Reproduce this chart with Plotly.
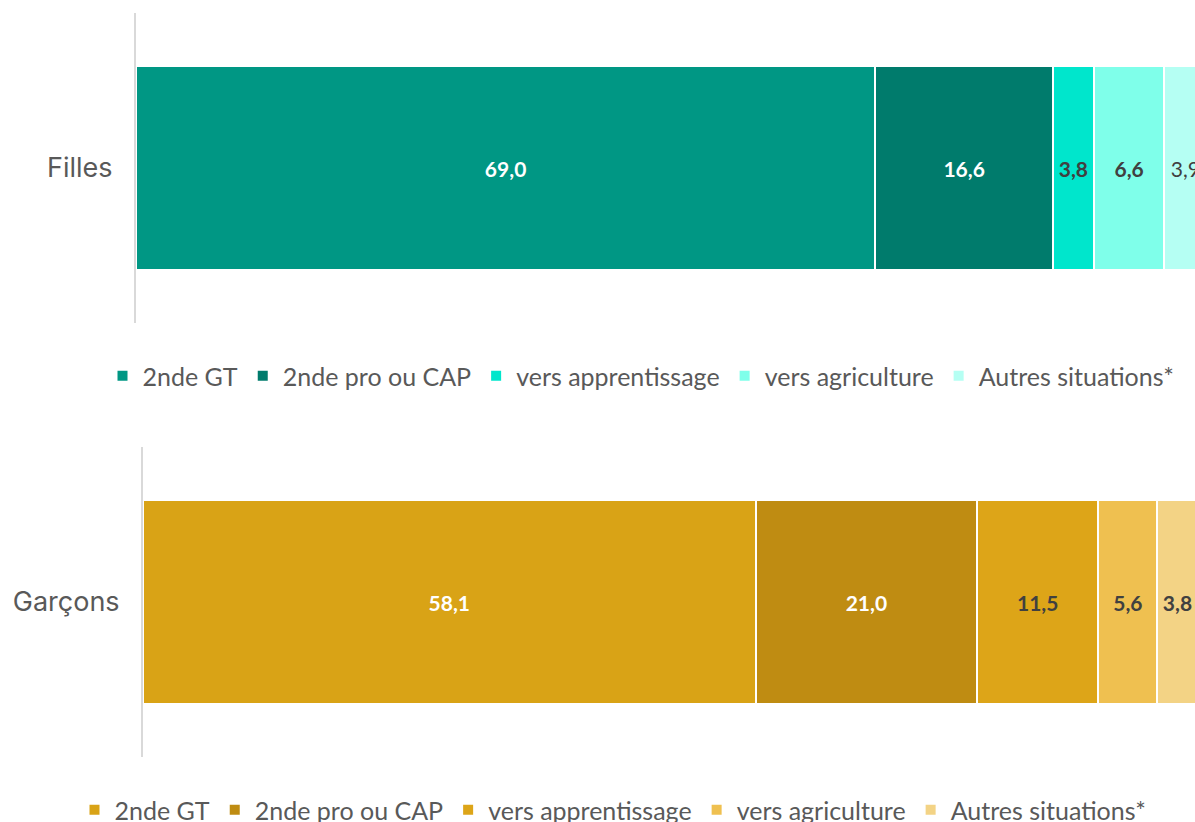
import plotly.graph_objects as go

categories = ["2nde GT", "2nde pro ou CAP", "vers apprentissage", "vers agriculture", "Autres situations*"]
filles_values = [69.0, 16.6, 3.8, 6.6, 3.9]
garcons_values = [58.1, 21.0, 11.5, 5.6, 3.8]
group_labels = ["Filles", "Garçons"]

filles_colors = ["#009784", "#007B6C", "#00E6CC", "#7FFFEA", "#B5FFF3"]
garcons_colors = ["#D9A316", "#BF8C12", "#DDA518", "#EFC050", "#F3D385"]
filles_text_colors = ["white", "white", "#404040", "#404040", "#404040"]
filles_text_weights = ["bold", "bold", "bold", "bold", "normal"]
garcons_text_colors = ["white", "white", "#404040", "#404040", "#404040"]
garcons_text_weights = ["bold", "bold", "bold", "bold", "bold"]

W, H = 1195, 822

fig = go.Figure()

for i, cat in enumerate(categories):
    fig.add_trace(go.Bar(
        y=[group_labels[0]], x=[filles_values[i]], name=cat, orientation="h",
        marker=dict(color=filles_colors[i], line=dict(color="white", width=2)),
        width=0.66, texttemplate="%{x:.1f}", textposition="inside", insidetextanchor="middle",
        textangle=0, constraintext="none",
        textfont=dict(family="Lato", size=21, color=filles_text_colors[i], weight=filles_text_weights[i]),
        xaxis="x", yaxis="y", legend="legend", hoverinfo="skip",
    ))

for i, cat in enumerate(categories):
    fig.add_trace(go.Bar(
        y=[group_labels[1]], x=[garcons_values[i]], name=cat, orientation="h",
        marker=dict(color=garcons_colors[i], line=dict(color="white", width=2)),
        width=0.66, texttemplate="%{x:.1f}", textposition="inside", insidetextanchor="middle",
        textangle=0, constraintext="none",
        textfont=dict(family="Lato", size=21, color=garcons_text_colors[i], weight=garcons_text_weights[i]),
        xaxis="x2", yaxis="y2", legend="legend2", hoverinfo="skip",
    ))

axis_line = dict(showline=True, linecolor="#D9D9D9", linewidth=2, ticks="", showgrid=False,
                 zeroline=False, ticklabelstandoff=16, automargin=False,
                 tickfont=dict(family="Inter", size=27, color="#595959"))

fig.update_layout(
    width=W, height=H,
    margin=dict(l=0, r=0, t=0, b=0, autoexpand=False),
    paper_bgcolor="white", plot_bgcolor="white",
    barmode="stack", separators=", ",
    showlegend=True,
    xaxis=dict(domain=[136 / W, 1], range=[0, (W - 136.5) / 10.708], visible=False, fixedrange=True),
    yaxis=dict(domain=[1 - 323 / H, 1 - 13 / H], anchor="x", **axis_line),
    xaxis2=dict(domain=[143 / W, 1], range=[0, (W - 143.5) / 10.54], visible=False, anchor="y2"),
    yaxis2=dict(domain=[1 - 757 / H, 1 - 447 / H], anchor="x2", **axis_line),
    legend=dict(orientation="h", x=641 / W, xanchor="center", y=1 - 376 / H, yanchor="middle",
                font=dict(family="Lato", size=25, color="#595959"), traceorder="normal",
                bgcolor="rgba(0,0,0,0)"),
    legend2=dict(orientation="h", x=613 / W, xanchor="center", y=1 - 810 / H, yanchor="middle",
                 font=dict(family="Lato", size=25, color="#595959"), traceorder="normal",
                 bgcolor="rgba(0,0,0,0)"),
)

fig.write_html("out.html", config={"displayModeBar": False},
               post_script="document.body.style.margin='0';document.body.style.overflow='hidden';")
